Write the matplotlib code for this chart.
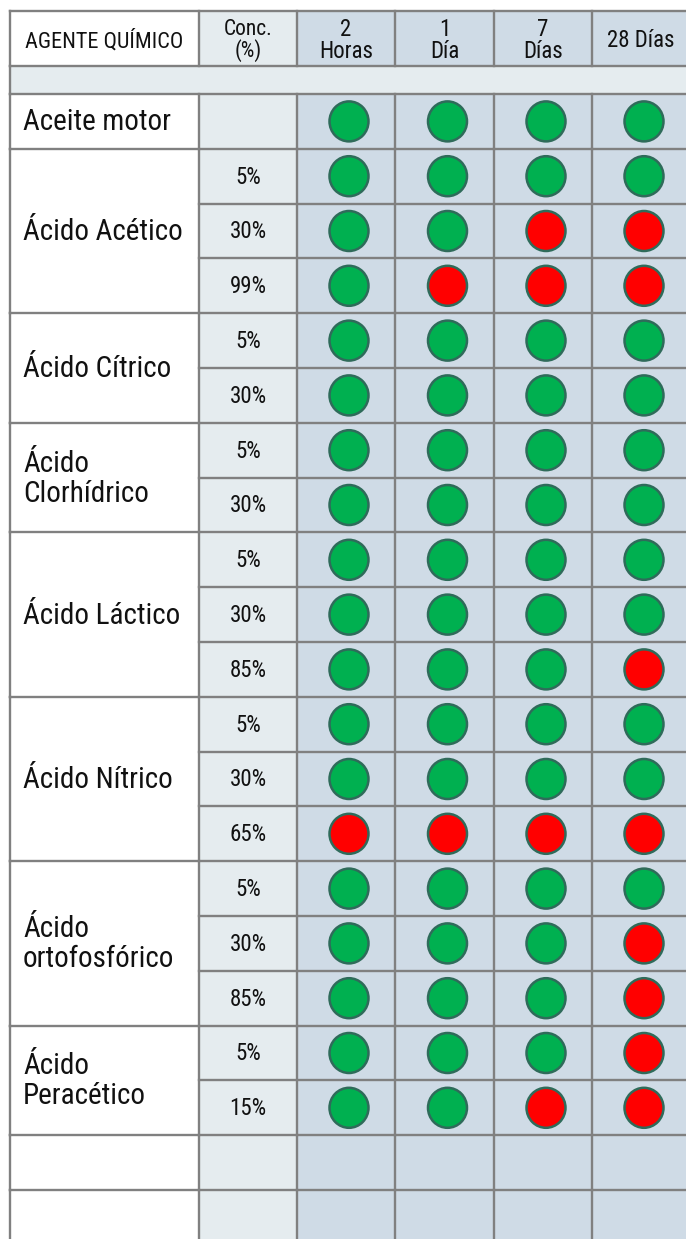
import matplotlib
matplotlib.use("Agg")
import matplotlib.pyplot as plt
from matplotlib import font_manager
from matplotlib.patches import Rectangle, Ellipse

# data
agents = ["Aceite motor", "Ácido Acético", "Ácido Cítrico", "Ácido\nClorhídrico",
          "Ácido Láctico", "Ácido Nítrico", "Ácido\nortofosfórico", "Ácido\nPeracético"]
concentrations = [[""], ["5%", "30%", "99%"], ["5%", "30%"], ["5%", "30%"],
                  ["5%", "30%", "85%"], ["5%", "30%", "65%"], ["5%", "30%", "85%"],
                  ["5%", "15%"]]
periods = ["2\nHoras", "1\nDía", "7\nDías", "28 Días"]
# 1 = resiste (verde), 0 = no resiste (rojo)
results = [
    [[1, 1, 1, 1]],
    [[1, 1, 1, 1], [1, 1, 0, 0], [1, 0, 0, 0]],
    [[1, 1, 1, 1], [1, 1, 1, 1]],
    [[1, 1, 1, 1], [1, 1, 1, 1]],
    [[1, 1, 1, 1], [1, 1, 1, 1], [1, 1, 1, 0]],
    [[1, 1, 1, 1], [1, 1, 1, 1], [0, 0, 0, 0]],
    [[1, 1, 1, 1], [1, 1, 1, 0], [1, 1, 1, 0]],
    [[1, 1, 1, 0], [1, 1, 0, 0]],
]
n_empty_rows = 2


def pick_font():
    # look for a narrow / condensed face, the original uses one
    fonts = font_manager.fontManager.ttflist
    for wanted in ["Roboto Condensed", "Liberation Sans Narrow", "Open Sans Condensed",
                   "Noto Sans Condensed", "DejaVu Sans Condensed"]:
        for f in fonts:
            if f.name == wanted:
                return wanted, "normal", True
    for f in fonts:
        if f.stretch in ("condensed", "semi-condensed", "extra-condensed") and f.weight in (400, "normal", "regular"):
            return f.name, f.stretch, True
    return "Roboto", "normal", False


FAMILY, STRETCH, NARROW = pick_font()
plt.rcParams["font.family"] = [FAMILY, "DejaVu Sans"]
plt.rcParams["font.stretch"] = STRETCH
scale = 1.0 if NARROW else 0.9

W, H = 686, 1239
fig = plt.figure(figsize=(W / 100, H / 100), dpi=100)
ax = fig.add_axes([0, 0, 1, 1])
ax.set_xlim(0, W)
ax.set_ylim(H, 0)
ax.axis("off")

# layout in pixels
col_edges = [10, 199, 297, 395, 494, 592, 690]
top = 11
header_bottom = 66
spacer_bottom = 94
row_h = 54.8
line_c = "#808080"
lw = 1.7
white = "#FFFFFF"
light = "#E5ECEF"
blue = "#CFDBE6"
green = "#00B050"
red = "#FF0000"
edge = "#2F6B5A"
txt_c = "#111111"

col_bg = [white, light, blue, blue, blue, blue]
for i in range(6):
    x0, x1 = col_edges[i], col_edges[i + 1]
    ax.add_patch(Rectangle((x0, top), x1 - x0, H - top, facecolor=col_bg[i], edgecolor="none", zorder=0))
# spacer row
ax.add_patch(Rectangle((col_edges[0], header_bottom), W - col_edges[0], spacer_bottom - header_bottom,
                       facecolor=light, edgecolor="none", zorder=1))

# header text
hdr_y = (top + header_bottom) / 2 + 3
ax.text(col_edges[0] + 94, hdr_y, "AGENTE QUÍMICO", ha="center", va="center",
        fontsize=16 * scale, color=txt_c)
ax.text((col_edges[1] + col_edges[2]) / 2, hdr_y - 1, "Conc.\n(%)", ha="center",
        va="center", fontsize=15.5 * scale, linespacing=1.0, color=txt_c)
for j, p in enumerate(periods):
    cx = (col_edges[j + 2] + col_edges[j + 3]) / 2
    ax.text(cx, hdr_y - 1, p, ha="center", va="center", fontsize=16.5 * scale, linespacing=1.0,
            color=txt_c)

# horizontal lines
for yy in [top, header_bottom, spacer_bottom]:
    ax.plot([col_edges[0], W], [yy, yy], color=line_c, lw=lw, zorder=3)
# header vertical lines
for x in col_edges[:-1]:
    ax.plot([x, x], [top, header_bottom], color=line_c, lw=lw, zorder=3)
ax.plot([col_edges[0], col_edges[0]], [header_bottom, spacer_bottom], color=line_c, lw=lw, zorder=3)

y = spacer_bottom
for agent, concs, res in zip(agents, concentrations, results):
    n = len(concs)
    y_block = y
    ax.text(col_edges[0] + 13, y + n * row_h / 2 + 1, agent, ha="left", va="center",
            fontsize=21 * scale, linespacing=1.1, color=txt_c)
    for k in range(n):
        yc = y + row_h / 2
        ax.text((col_edges[1] + col_edges[2]) / 2, yc + 1, concs[k], ha="center", va="center",
                fontsize=16.5 * scale, color=txt_c)
        for j, r in enumerate(res[k]):
            cx = (col_edges[j + 2] + col_edges[j + 3]) / 2 + 3
            ax.add_patch(Ellipse((cx, yc), 39, 40, facecolor=green if r else red, edgecolor=edge,
                                 lw=1.8, zorder=4))
        y += row_h
        if k < n - 1:
            ax.plot([col_edges[1], W], [y, y], color=line_c, lw=lw, zorder=3)
    ax.plot([col_edges[0], W], [y, y], color=line_c, lw=lw, zorder=3)
    for x in col_edges[:-1]:
        ax.plot([x, x], [y_block, y], color=line_c, lw=lw, zorder=3)

for _ in range(n_empty_rows):
    y0 = y
    y += row_h
    for x in col_edges[:-1]:
        ax.plot([x, x], [y0, min(y, H)], color=line_c, lw=lw, zorder=3)
    if y < H - 3:
        ax.plot([col_edges[0], W], [y, y], color=line_c, lw=lw, zorder=3)

fig.savefig("out.png", dpi=100)
